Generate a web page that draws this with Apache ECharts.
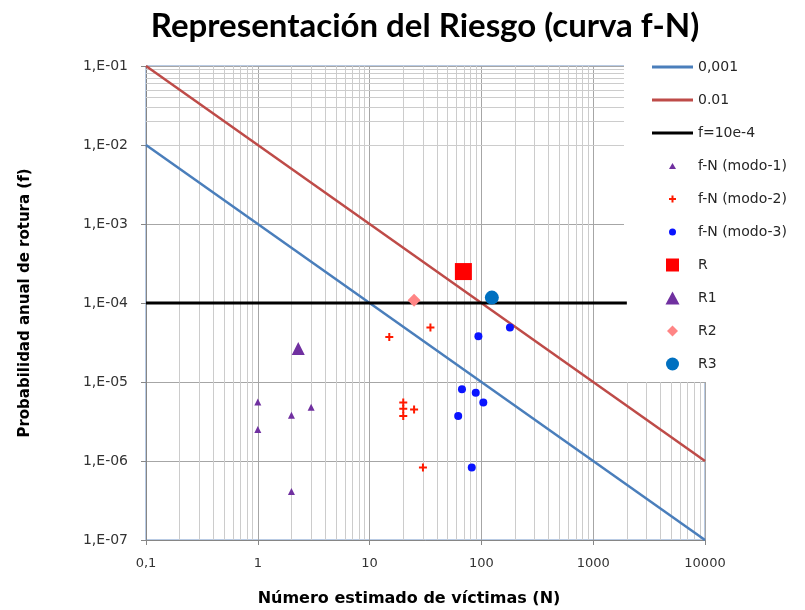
<!DOCTYPE html>
<html>
<head>
<meta charset="utf-8">
<script src="https://cdn.jsdelivr.net/npm/echarts@6/dist/echarts.min.js"></script>
<style>html,body{margin:0;padding:0;background:#fff}#c{width:805px;height:610px}</style>
</head>
<body>
<div id="c"></div>
<script>
// ---- data ----
var xTickLabels = ['0,1', '1', '10', '100', '1000', '10000'];
var yTickLabels = ['1,E-07', '1,E-06', '1,E-05', '1,E-04', '1,E-03', '1,E-02', '1,E-01'];
var line0001 = [[0.1, 1e-2], [10000, 1e-7]];
var line001 = [[0.1, 1e-1], [10000, 1e-6]];
var lineUmbral = [[0.1, 1e-4], [2000, 1e-4]];
var modo1N = [1, 1, 2, 3, 2];
var modo1F = [5.6e-6, 2.5e-6, 3.8e-6, 4.8e-6, 4.1e-7];
var modo2N = [15, 35, 20, 20, 20, 25, 30];
var modo2F = [3.7e-5, 4.9e-5, 5.5e-6, 4.6e-6, 3.7e-6, 4.5e-6, 8.3e-7];
var modo3N = [94, 180, 67, 89, 104, 62, 82];
var modo3F = [3.8e-5, 4.9e-5, 8.1e-6, 7.3e-6, 5.5e-6, 3.7e-6, 8.3e-7];
var pointR = [[69, 2.5e-4]];
var pointR1 = [[2.3, 2.65e-5]];
var pointR2 = [[25, 1.08e-4]];
var pointR3 = [[124, 1.17e-4]];

function zip(a, b) { return a.map(function (v, i) { return [v, b[i]]; }); }

// minor gridline positions (axis decoration, not data)
var minorLines = [];
for (var e = -1; e < 4; e++) {
  for (var m = 2; m <= 9; m++) minorLines.push({ xAxis: m * Math.pow(10, e) });
}
for (var e2 = -7; e2 < -1; e2++) {
  for (var m2 = 2; m2 <= 9; m2++) minorLines.push({ yAxis: m2 * Math.pow(10, e2) });
}

var plusPath = 'path://M3,0H5V3H8V5H5V8H3V5H0V3H3Z';
var BOX = 'path://M0,0M41,14';
var LINEICON = BOX + 'M0,5.5H41V8.5H0Z';
var FONT_T = 'Lato, "Open Sans", sans-serif';
var FONT = '"DejaVu Sans", sans-serif';

var chart = echarts.init(document.getElementById('c'), null, { renderer: 'canvas' });
chart.setOption({
  animation: false,
  backgroundColor: '#ffffff',
  title: [{
    text: 'Representación del Riesgo (curva f-N)',
    left: 420, top: 5, textAlign: 'center',
    textStyle: { fontFamily: FONT_T, fontSize: 33, fontWeight: 'bold', color: '#000' }
  }, {
    text: 'Número estimado de víctimas (N)',
    left: 404, top: 586, textAlign: 'center',
    textStyle: { fontFamily: FONT, fontSize: 16, fontWeight: 'bold', color: '#000' }
  }],
  grid: { left: 146, top: 66, right: 100, bottom: 70, containLabel: false,
          show: true, borderColor: '#7396c9', borderWidth: 1 },
  graphic: [{
    type: 'rect', zlevel: 1, z: 1, silent: true,
    shape: { x: 624, y: 48, width: 181, height: 334 },
    style: { fill: '#ffffff' }
  }],
  legend: {
    zlevel: 1, z: 4,
    orient: 'vertical', left: 647, top: 55, padding: 5,
    itemWidth: 41, itemHeight: 14, itemGap: 19,
    textStyle: { fontFamily: FONT, fontSize: 14, lineHeight: 14, color: '#262626' },
    data: [
      { name: '0,001', icon: LINEICON },
      { name: '0.01', icon: LINEICON },
      { name: 'f=10e-4', icon: LINEICON },
      { name: 'f-N (modo-1)', icon: BOX + 'M20.5,4L24,10L17,10Z' },
      { name: 'f-N (modo-2)', icon: BOX + 'M19.5,3.5H21.5V6H24V8H21.5V10.5H19.5V8H17V6H19.5Z' },
      { name: 'f-N (modo-3)', icon: BOX + 'M24,7A3.5,3.5,0,1,1,17,7A3.5,3.5,0,1,1,24,7Z' },
      { name: 'R', icon: BOX + 'M14,0.5H27V13.5H14Z' },
      { name: 'R1', icon: BOX + 'M20.5,0.5L27.5,13.5L13.5,13.5Z' },
      { name: 'R2', icon: BOX + 'M20.5,1.5L26,7L20.5,12.5L15,7Z' },
      { name: 'R3', icon: BOX + 'M27,7A6.5,6.5,0,1,1,14,7A6.5,6.5,0,1,1,27,7Z' }
    ]
  },
  xAxis: {
    type: 'log', logBase: 10, min: 0.1, max: 10000,
    axisLine: { lineStyle: { color: '#868686' } },
    axisTick: { show: true, length: 5, lineStyle: { color: '#868686' } },
    axisLabel: {
      fontFamily: FONT, fontSize: 13, color: '#333333', margin: 17,
      formatter: function (v) {
        var i = Math.round(Math.log10(v)) + 1;
        return xTickLabels[i] || '';
      }
    },
    splitLine: { show: true, lineStyle: { color: '#a6a6a6', width: 1 } }
  },
  yAxis: {
    type: 'log', logBase: 10, min: 1e-7, max: 1e-1,
    name: 'Probabilidad anual de rotura (f)', nameLocation: 'middle', nameGap: 113,
    nameTextStyle: { fontFamily: FONT, fontSize: 15, fontWeight: 'bold', color: '#000' },
    axisLine: { show: true, lineStyle: { color: '#868686' } },
    axisTick: { show: true, length: 5, lineStyle: { color: '#868686' } },
    axisLabel: {
      fontFamily: FONT, fontSize: 14, color: '#333333', margin: 18,
      formatter: function (v) {
        var i = Math.round(Math.log10(v)) + 7;
        return yTickLabels[i] || '';
      }
    },
    splitLine: { show: true, lineStyle: { color: '#a6a6a6', width: 1 } }
  },
  series: [
    {
      name: 'gridMinor', type: 'line', data: [], zlevel: 0, z: 0, silent: true,
      symbol: 'none', lineStyle: { opacity: 0 },
      markLine: {
        silent: true, symbol: ['none', 'none'], label: { show: false },
        lineStyle: { color: '#cccccc', width: 1, type: 'solid' },
        emphasis: { disabled: true },
        animation: false,
        data: minorLines
      }
    },
    {
      name: '0,001', type: 'line', data: line0001, symbol: 'none', zlevel: 1, z: 2,
      lineStyle: { color: '#4a7ebb', width: 2.5 }, itemStyle: { color: '#4a7ebb' }
    },
    {
      name: '0.01', type: 'line', data: line001, symbol: 'none', zlevel: 1, z: 2,
      lineStyle: { color: '#be4b48', width: 2.5 }, itemStyle: { color: '#be4b48' }
    },
    {
      name: 'f=10e-4', type: 'line', data: lineUmbral, symbol: 'none', zlevel: 1, z: 2,
      lineStyle: { color: '#000000', width: 3 }, itemStyle: { color: '#000000' }
    },
    {
      name: 'f-N (modo-1)', type: 'scatter', data: zip(modo1N, modo1F), zlevel: 1, z: 3,
      symbol: 'triangle', symbolSize: 7, itemStyle: { color: '#7030a0', opacity: 1 }
    },
    {
      name: 'f-N (modo-2)', type: 'scatter', data: zip(modo2N, modo2F), zlevel: 1, z: 3,
      symbol: plusPath, symbolSize: 8, itemStyle: { color: '#ff1a00', opacity: 1 }
    },
    {
      name: 'f-N (modo-3)', type: 'scatter', data: zip(modo3N, modo3F), zlevel: 1, z: 3,
      symbol: 'circle', symbolSize: 8, itemStyle: { color: '#0a14ff', opacity: 1 }
    },
    {
      name: 'R', type: 'scatter', data: pointR, zlevel: 1, z: 3,
      symbol: 'rect', symbolSize: 17, itemStyle: { color: '#ff0000', opacity: 1 }
    },
    {
      name: 'R1', type: 'scatter', data: pointR1, zlevel: 1, z: 3,
      symbol: 'triangle', symbolSize: 13, itemStyle: { color: '#7030a0', opacity: 1 }
    },
    {
      name: 'R2', type: 'scatter', data: pointR2, zlevel: 1, z: 3,
      symbol: 'diamond', symbolSize: 13, itemStyle: { color: '#ff8585', opacity: 1 }
    },
    {
      name: 'R3', type: 'scatter', data: pointR3, zlevel: 1, z: 3,
      symbol: 'circle', symbolSize: 14, itemStyle: { color: '#0070c0', opacity: 1 }
    }
  ]
});
</script>
</body>
</html>
